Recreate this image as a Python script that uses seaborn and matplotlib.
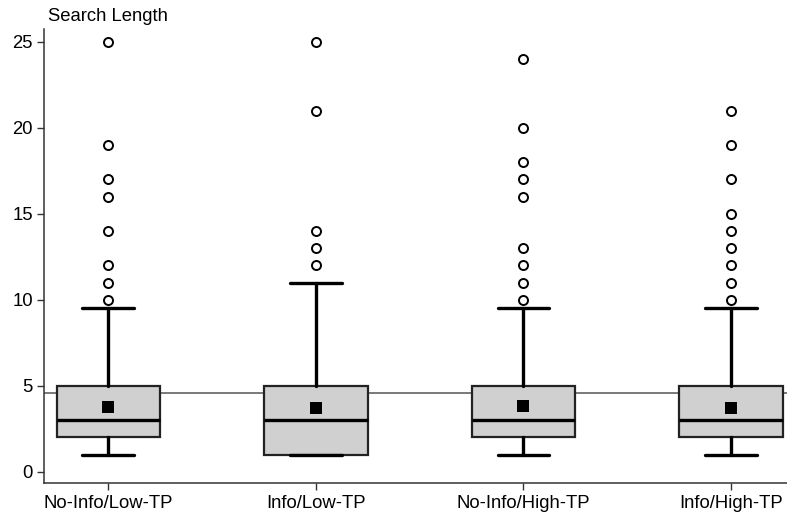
import matplotlib
matplotlib.use('Agg')
import matplotlib.pyplot as plt
import seaborn as sns
import pandas as pd

# ============================================================================
# DATA
# ============================================================================
groups = ['No-Info/Low-TP', 'Info/Low-TP', 'No-Info/High-TP', 'Info/High-TP']
q1 = [2, 1, 2, 2]
medians = [3, 3, 3, 3]
q3 = [5, 5, 5, 5]
whisker_low = [1, 1, 1, 1]
whisker_high = [9.5, 11, 9.5, 9.5]
means = [3.8, 3.72, 3.85, 3.72]
outliers = [
    [10, 11, 12, 14, 16, 17, 19, 25],
    [12, 13, 14, 21, 25],
    [10, 11, 12, 13, 16, 17, 18, 20, 24],
    [10, 11, 12, 13, 14, 15, 17, 19, 21],
]
ref_line = 4.6
y_ticks = [0, 5, 10, 15, 20, 25]

# ============================================================================
# STYLE
# ============================================================================
sns.set_theme(style='ticks')
plt.rcParams['font.family'] = ['Liberation Sans', 'DejaVu Sans']
plt.rcParams['text.color'] = 'black'
plt.rcParams['xtick.labelcolor'] = 'black'
plt.rcParams['ytick.labelcolor'] = 'black'
LABEL_SIZE = 13.3
SPINE_COLOR = '#333333'

fig = plt.figure(figsize=(7.87, 5.17), dpi=100)
ax = fig.add_axes([0.056, 0.065, 0.944, 0.878])

positions = list(range(len(groups)))
stats = []
for i, g in enumerate(groups):
    stats.append({'label': g, 'q1': q1[i], 'med': medians[i], 'q3': q3[i],
                  'whislo': whisker_low[i], 'whishi': whisker_high[i],
                  'fliers': outliers[i], 'mean': means[i]})

# reference line behind the boxes
ax.axhline(ref_line, color='#555555', lw=1.1, zorder=1)

ax.bxp(stats, positions=positions, widths=0.5, patch_artist=True,
       showmeans=False, showfliers=True,
       boxprops=dict(facecolor='#d0d0d0', edgecolor='#222222', linewidth=1.6),
       medianprops=dict(color='black', linewidth=2.4),
       whiskerprops=dict(color='black', linewidth=2.4),
       capprops=dict(color='black', linewidth=2.4),
       capwidths=0.25,
       flierprops=dict(marker='o', markerfacecolor='white', markeredgecolor='black',
                       markersize=6.5, markeredgewidth=1.4),
       zorder=2)

mean_df = pd.DataFrame({'pos': positions, 'mean': means})
sns.scatterplot(data=mean_df, x='pos', y='mean', marker='s', color='black',
                s=70, linewidth=0, ax=ax, zorder=3)

ax.set_xlim(-0.31, 3.27)
ax.set_ylim(-0.67, 25.72)
ax.set_xticks(positions)
ax.set_xticklabels(groups, fontsize=LABEL_SIZE)
ax.set_yticks(y_ticks)
ax.set_yticklabels([str(t) for t in y_ticks], fontsize=LABEL_SIZE)
ax.set_xlabel('')
ax.set_ylabel('')
ax.tick_params(axis='both', length=5, width=1, color=SPINE_COLOR, pad=3)

sns.despine(ax=ax)
for side in ['left', 'bottom']:
    ax.spines[side].set_color(SPINE_COLOR)
    ax.spines[side].set_linewidth(1.1)

fig.text(48 / 787, 1 - 21 / 517, 'Search Length', ha='left', va='baseline',
         fontsize=LABEL_SIZE, color='black')

plt.savefig('out.png', dpi=100, facecolor='white')
plt.close()
